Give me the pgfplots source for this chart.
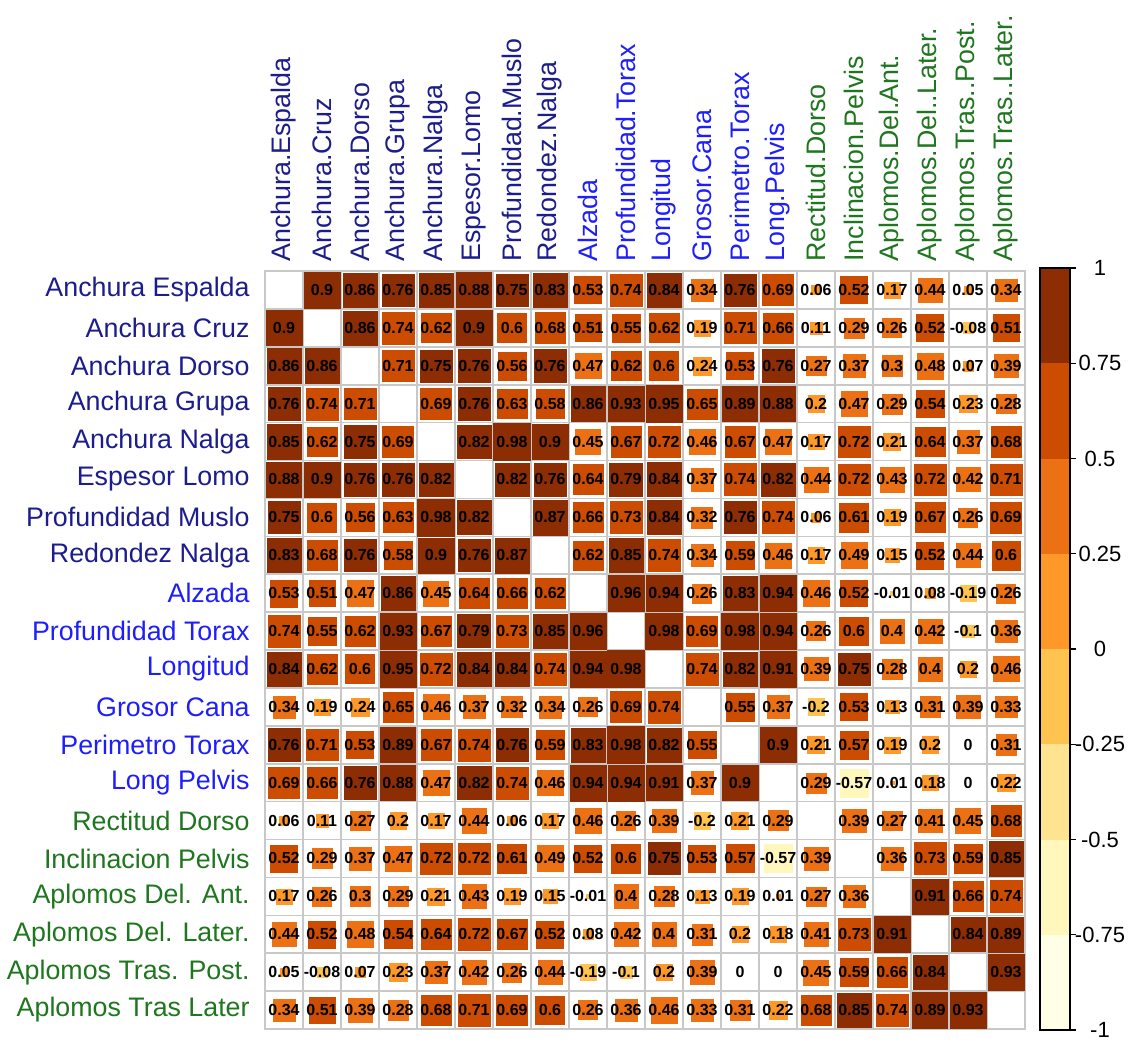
\documentclass[border=0pt]{standalone}
\usepackage{pgfplots}
\usepackage{pgfplotstable}
\pgfplotsset{compat=1.18}
\usepackage{fontspec}
\setmainfont{Liberation Sans}
\setsansfont{Liberation Sans}
\definecolor{dblue}{RGB}{28,28,140}
\definecolor{lblue}{RGB}{30,30,250}
\definecolor{dgreen}{RGB}{30,118,30}
\definecolor{gridgray}{RGB}{200,200,200}
\definecolor{c1}{RGB}{255,255,229}
\definecolor{c2}{RGB}{255,247,188}
\definecolor{c3}{RGB}{254,227,145}
\definecolor{c4}{RGB}{254,196,79}
\definecolor{c5}{RGB}{254,153,41}
\definecolor{c6}{RGB}{236,112,20}
\definecolor{c7}{RGB}{204,76,2}
\definecolor{c8}{RGB}{140,45,4}
\newcommand{\lbl}{\fontsize{13.4}{15}\selectfont}
\newcommand{\DB}[1]{\textcolor{dblue}{#1}}
\newcommand{\LB}[1]{\textcolor{lblue}{#1}}
\newcommand{\DG}[1]{\textcolor{dgreen}{#1}}
\pgfplotstableread[row sep=\\]{
x y r\\
2 20 0.9\\ 3 20 0.86\\ 4 20 0.76\\ 5 20 0.85\\ 6 20 0.88\\ 7 20 0.752\\ 8 20 0.83\\ 9 20 0.53\\ 10 20 0.74\\ 11 20 0.84\\ 12 20 0.34\\ 13 20 0.76\\ 14 20 0.69\\ 15 20 0.06\\ 16 20 0.52\\ 17 20 0.17\\ 18 20 0.44\\ 19 20 0.05\\ 20 20 0.34\\
1 19 0.9\\ 3 19 0.86\\ 4 19 0.74\\ 5 19 0.62\\ 6 19 0.9\\ 7 19 0.6\\ 8 19 0.68\\ 9 19 0.51\\ 10 19 0.55\\ 11 19 0.62\\ 12 19 0.19\\ 13 19 0.71\\ 14 19 0.66\\ 15 19 0.11\\ 16 19 0.29\\ 17 19 0.26\\ 18 19 0.52\\ 19 19 -0.08\\ 20 19 0.51\\
1 18 0.86\\ 2 18 0.86\\ 4 18 0.71\\ 5 18 0.752\\ 6 18 0.76\\ 7 18 0.56\\ 8 18 0.76\\ 9 18 0.47\\ 10 18 0.62\\ 11 18 0.6\\ 12 18 0.24\\ 13 18 0.53\\ 14 18 0.76\\ 15 18 0.27\\ 16 18 0.37\\ 17 18 0.3\\ 18 18 0.48\\ 19 18 0.07\\ 20 18 0.39\\
1 17 0.76\\ 2 17 0.74\\ 3 17 0.71\\ 5 17 0.69\\ 6 17 0.76\\ 7 17 0.63\\ 8 17 0.58\\ 9 17 0.86\\ 10 17 0.93\\ 11 17 0.95\\ 12 17 0.65\\ 13 17 0.89\\ 14 17 0.88\\ 15 17 0.2\\ 16 17 0.47\\ 17 17 0.29\\ 18 17 0.54\\ 19 17 0.23\\ 20 17 0.28\\
1 16 0.85\\ 2 16 0.62\\ 3 16 0.752\\ 4 16 0.69\\ 6 16 0.82\\ 7 16 0.98\\ 8 16 0.9\\ 9 16 0.45\\ 10 16 0.67\\ 11 16 0.72\\ 12 16 0.46\\ 13 16 0.67\\ 14 16 0.47\\ 15 16 0.17\\ 16 16 0.72\\ 17 16 0.21\\ 18 16 0.64\\ 19 16 0.37\\ 20 16 0.68\\
1 15 0.88\\ 2 15 0.9\\ 3 15 0.76\\ 4 15 0.76\\ 5 15 0.82\\ 7 15 0.82\\ 8 15 0.76\\ 9 15 0.64\\ 10 15 0.79\\ 11 15 0.84\\ 12 15 0.37\\ 13 15 0.74\\ 14 15 0.82\\ 15 15 0.44\\ 16 15 0.72\\ 17 15 0.43\\ 18 15 0.72\\ 19 15 0.42\\ 20 15 0.71\\
1 14 0.752\\ 2 14 0.6\\ 3 14 0.56\\ 4 14 0.63\\ 5 14 0.98\\ 6 14 0.82\\ 8 14 0.87\\ 9 14 0.66\\ 10 14 0.73\\ 11 14 0.84\\ 12 14 0.32\\ 13 14 0.76\\ 14 14 0.74\\ 15 14 0.06\\ 16 14 0.61\\ 17 14 0.19\\ 18 14 0.67\\ 19 14 0.26\\ 20 14 0.69\\
1 13 0.83\\ 2 13 0.68\\ 3 13 0.76\\ 4 13 0.58\\ 5 13 0.9\\ 6 13 0.76\\ 7 13 0.87\\ 9 13 0.62\\ 10 13 0.85\\ 11 13 0.74\\ 12 13 0.34\\ 13 13 0.59\\ 14 13 0.46\\ 15 13 0.17\\ 16 13 0.49\\ 17 13 0.15\\ 18 13 0.52\\ 19 13 0.44\\ 20 13 0.6\\
1 12 0.53\\ 2 12 0.51\\ 3 12 0.47\\ 4 12 0.86\\ 5 12 0.45\\ 6 12 0.64\\ 7 12 0.66\\ 8 12 0.62\\ 10 12 0.96\\ 11 12 0.94\\ 12 12 0.26\\ 13 12 0.83\\ 14 12 0.94\\ 15 12 0.46\\ 16 12 0.52\\ 17 12 -0.01\\ 18 12 0.08\\ 19 12 -0.19\\ 20 12 0.26\\
1 11 0.74\\ 2 11 0.55\\ 3 11 0.62\\ 4 11 0.93\\ 5 11 0.67\\ 6 11 0.79\\ 7 11 0.73\\ 8 11 0.85\\ 9 11 0.96\\ 11 11 0.98\\ 12 11 0.69\\ 13 11 0.98\\ 14 11 0.94\\ 15 11 0.26\\ 16 11 0.6\\ 17 11 0.4\\ 18 11 0.42\\ 19 11 -0.1\\ 20 11 0.36\\
1 10 0.84\\ 2 10 0.62\\ 3 10 0.6\\ 4 10 0.95\\ 5 10 0.72\\ 6 10 0.84\\ 7 10 0.84\\ 8 10 0.74\\ 9 10 0.94\\ 10 10 0.98\\ 12 10 0.74\\ 13 10 0.82\\ 14 10 0.91\\ 15 10 0.39\\ 16 10 0.752\\ 17 10 0.28\\ 18 10 0.4\\ 19 10 0.2\\ 20 10 0.46\\
1 9 0.34\\ 2 9 0.19\\ 3 9 0.24\\ 4 9 0.65\\ 5 9 0.46\\ 6 9 0.37\\ 7 9 0.32\\ 8 9 0.34\\ 9 9 0.26\\ 10 9 0.69\\ 11 9 0.74\\ 13 9 0.55\\ 14 9 0.37\\ 15 9 -0.2\\ 16 9 0.53\\ 17 9 0.13\\ 18 9 0.31\\ 19 9 0.39\\ 20 9 0.33\\
1 8 0.76\\ 2 8 0.71\\ 3 8 0.53\\ 4 8 0.89\\ 5 8 0.67\\ 6 8 0.74\\ 7 8 0.76\\ 8 8 0.59\\ 9 8 0.83\\ 10 8 0.98\\ 11 8 0.82\\ 12 8 0.55\\ 14 8 0.9\\ 15 8 0.21\\ 16 8 0.57\\ 17 8 0.19\\ 18 8 0.2\\ 19 8 0\\ 20 8 0.31\\
1 7 0.69\\ 2 7 0.66\\ 3 7 0.76\\ 4 7 0.88\\ 5 7 0.47\\ 6 7 0.82\\ 7 7 0.74\\ 8 7 0.46\\ 9 7 0.94\\ 10 7 0.94\\ 11 7 0.91\\ 12 7 0.37\\ 13 7 0.9\\ 15 7 0.29\\ 16 7 -0.57\\ 17 7 0.01\\ 18 7 0.18\\ 19 7 0\\ 20 7 0.22\\
1 6 0.06\\ 2 6 0.11\\ 3 6 0.27\\ 4 6 0.2\\ 5 6 0.17\\ 6 6 0.44\\ 7 6 0.06\\ 8 6 0.17\\ 9 6 0.46\\ 10 6 0.26\\ 11 6 0.39\\ 12 6 -0.2\\ 13 6 0.21\\ 14 6 0.29\\ 16 6 0.39\\ 17 6 0.27\\ 18 6 0.41\\ 19 6 0.45\\ 20 6 0.68\\
1 5 0.52\\ 2 5 0.29\\ 3 5 0.37\\ 4 5 0.47\\ 5 5 0.72\\ 6 5 0.72\\ 7 5 0.61\\ 8 5 0.49\\ 9 5 0.52\\ 10 5 0.6\\ 11 5 0.752\\ 12 5 0.53\\ 13 5 0.57\\ 14 5 -0.57\\ 15 5 0.39\\ 17 5 0.36\\ 18 5 0.73\\ 19 5 0.59\\ 20 5 0.85\\
1 4 0.17\\ 2 4 0.26\\ 3 4 0.3\\ 4 4 0.29\\ 5 4 0.21\\ 6 4 0.43\\ 7 4 0.19\\ 8 4 0.15\\ 9 4 -0.01\\ 10 4 0.4\\ 11 4 0.28\\ 12 4 0.13\\ 13 4 0.19\\ 14 4 0.01\\ 15 4 0.27\\ 16 4 0.36\\ 18 4 0.91\\ 19 4 0.66\\ 20 4 0.74\\
1 3 0.44\\ 2 3 0.52\\ 3 3 0.48\\ 4 3 0.54\\ 5 3 0.64\\ 6 3 0.72\\ 7 3 0.67\\ 8 3 0.52\\ 9 3 0.08\\ 10 3 0.42\\ 11 3 0.4\\ 12 3 0.31\\ 13 3 0.2\\ 14 3 0.18\\ 15 3 0.41\\ 16 3 0.73\\ 17 3 0.91\\ 19 3 0.84\\ 20 3 0.89\\
1 2 0.05\\ 2 2 -0.08\\ 3 2 0.07\\ 4 2 0.23\\ 5 2 0.37\\ 6 2 0.42\\ 7 2 0.26\\ 8 2 0.44\\ 9 2 -0.19\\ 10 2 -0.1\\ 11 2 0.2\\ 12 2 0.39\\ 13 2 0\\ 14 2 0\\ 15 2 0.45\\ 16 2 0.59\\ 17 2 0.66\\ 18 2 0.84\\ 20 2 0.93\\
1 1 0.34\\ 2 1 0.51\\ 3 1 0.39\\ 4 1 0.28\\ 5 1 0.68\\ 6 1 0.71\\ 7 1 0.69\\ 8 1 0.6\\ 9 1 0.26\\ 10 1 0.36\\ 11 1 0.46\\ 12 1 0.33\\ 13 1 0.31\\ 14 1 0.22\\ 15 1 0.68\\ 16 1 0.85\\ 17 1 0.74\\ 18 1 0.89\\ 19 1 0.93\\
}\corr
\begin{document}
\begin{tikzpicture}
\useasboundingbox (0,0) rectangle (564.5pt,520.5pt);
\begin{axis}[
  at={(132.5pt,6pt)}, anchor=south west, scale only axis,
  width=380pt, height=379pt,
  xmin=0.5, xmax=20.5, ymin=0.5, ymax=20.5,
  xtick={1,...,20}, ytick={1,...,20},
  minor xtick={0.5,1.5,...,20.5}, minor ytick={0.5,1.5,...,20.5},
  grid=minor, minor grid style={draw=gridgray, line width=0.8pt},
  major tick length=0pt, minor tick length=0pt,
  axis line style={draw=gridgray, line width=0.8pt},
  axis on top,
  xticklabel pos=right,
  xticklabels={\DB{Anchura.Espalda},\DB{Anchura.Cruz},\DB{Anchura.Dorso},\DB{Anchura.Grupa},\DB{Anchura.Nalga},\DB{Espesor.Lomo},\DB{Profundidad.Muslo},\DB{Redondez.Nalga},\LB{Alzada},\LB{Profundidad.Torax},\LB{Longitud},\LB{Grosor.Cana},\LB{Perimetro.Torax},\LB{Long.Pelvis},\DG{Rectitud.Dorso},\DG{Inclinacion.Pelvis},\DG{Aplomos.Del.Ant.},\DG{Aplomos.Del..Later.},\DG{Aplomos.Tras..Post.},\DG{Aplomos.Tras..Later.}},
  yticklabels={\DG{Aplomos Tras Later},\DG{Aplomos Tras. Post.},\DG{Aplomos Del. Later.},\DG{Aplomos Del. Ant.},\DG{Inclinacion Pelvis},\DG{Rectitud Dorso},\LB{Long Pelvis},\LB{Perimetro Torax},\LB{Grosor Cana},\LB{Longitud},\LB{Profundidad Torax},\LB{Alzada},\DB{Redondez Nalga},\DB{Profundidad Muslo},\DB{Espesor Lomo},\DB{Anchura Nalga},\DB{Anchura Grupa},\DB{Anchura Dorso},\DB{Anchura Cruz},\DB{Anchura Espalda}},
  xticklabel style={rotate=90, anchor=west, inner sep=0pt, font=\lbl},
  yticklabel style={anchor=east, inner sep=0pt, font=\lbl},
  xticklabel shift=4.5pt, yticklabel shift=7.5pt,
  colormap={yob}{rgb255=(255,255,229) rgb255=(255,247,188) rgb255=(254,227,145) rgb255=(254,196,79) rgb255=(254,153,41) rgb255=(236,112,20) rgb255=(204,76,2) rgb255=(140,45,4)},
  colormap access=piecewise constant,
  point meta min=-1, point meta max=1,
  clip=false,
]
\addplot[scatter, only marks, mark=square*, point meta=explicit,
  scatter/use mapped color={draw=mapped color, fill=mapped color},
  mark options={line width=0.1pt},
  visualization depends on={\thisrow{r} \as \rv},
  scatter/@pre marker code/.append style={/tikz/mark size={9.3*sqrt(abs(\rv))}},
] table[x=x, y=y, meta=r]{\corr};
\addplot[draw=none, mark=none, point meta=explicit,
  nodes near coords={\pgfmathprintnumber[fixed,precision=2,assume math mode=true]{\pgfplotspointmeta}},
  every node near coord/.append style={anchor=center, text=black, inner sep=0pt, font=\fontsize{8}{9}\selectfont\bfseries},
] table[x=x, y=y, meta=r]{\corr};
\end{axis}
\begin{axis}[
  at={(520pt,5.5pt)}, anchor=south west, scale only axis,
  width=15pt, height=381pt,
  xmin=0, xmax=1, ymin=-1, ymax=1, xtick=\empty,
  ytick={-1,-0.75,-0.5,-0.25,0,0.25,0.5,0.75,1},
  yticklabels={-1,-0.75,-0.5,-0.25,0,0.25,0.5,0.75,1},
  ytick pos=right, yticklabel pos=right, tick align=outside,
  major tick length=3pt,
  tick style={black, line width=0.6pt},
  axis line style={black, line width=0.6pt},
  yticklabel style={anchor=center, inner sep=0pt, font=\fontsize{11}{12}\selectfont},
  yticklabel shift=12pt,
  axis on top,
]
\addplot[fill=c1, draw=none] coordinates {(0,-1) (1,-1) (1,-0.75) (0,-0.75)} -- cycle;
\addplot[fill=c2, draw=none] coordinates {(0,-0.75) (1,-0.75) (1,-0.5) (0,-0.5)} -- cycle;
\addplot[fill=c3, draw=none] coordinates {(0,-0.5) (1,-0.5) (1,-0.25) (0,-0.25)} -- cycle;
\addplot[fill=c4, draw=none] coordinates {(0,-0.25) (1,-0.25) (1,0) (0,0)} -- cycle;
\addplot[fill=c5, draw=none] coordinates {(0,0) (1,0) (1,0.25) (0,0.25)} -- cycle;
\addplot[fill=c6, draw=none] coordinates {(0,0.25) (1,0.25) (1,0.5) (0,0.5)} -- cycle;
\addplot[fill=c7, draw=none] coordinates {(0,0.5) (1,0.5) (1,0.75) (0,0.75)} -- cycle;
\addplot[fill=c8, draw=none] coordinates {(0,0.75) (1,0.75) (1,1) (0,1)} -- cycle;
\end{axis}
\end{tikzpicture}
\end{document}
